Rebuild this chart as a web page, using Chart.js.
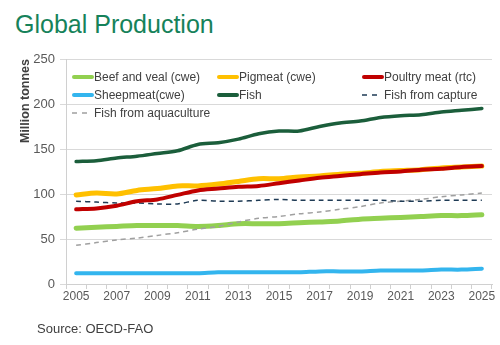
<!DOCTYPE html>
<html lang="en">
  <head>
    <meta charset="UTF-8" />
    <script src="https://cdn.jsdelivr.net/npm/chart.js"></script>
    <style>
      body {
        margin: 0;
        width: 500px;
        height: 345px;
        position: relative;
        background: #fff;
        font-family: "Liberation Sans", Arial, sans-serif;
        overflow: hidden;
      }
      #title {
        position: absolute;
        left: 15px;
        top: 12px;
        font-size: 25px;
        line-height: 1;
        color: #16825a;
      }
      #source {
        position: absolute;
        left: 37px;
        top: 322px;
        font-size: 13px;
        line-height: 1;
        color: #404040;
      }
      #chart {
        position: absolute;
        left: 0;
        top: 0;
      }
      #legend {
        position: absolute;
        left: 72px;
        top: 68px;
        display: grid;
        grid-template-columns: 145px 145px 130px;
        row-gap: 1px;
        font-size: 12px;
        color: #404040;
      }
      .item {
        display: flex;
        align-items: center;
        height: 17px;
        white-space: nowrap;
      }
    </style>
  </head>
  <body>
    <div id="title">Global Production</div>
    <canvas id="chart" width="500" height="345"></canvas>
    <div id="legend"></div>
    <div id="source">Source: OECD-FAO</div>

    <script>
      const years = [
        "2005", "2006", "2007", "2008", "2009", "2010", "2011", "2012", "2013", "2014", "2015",
        "2016", "2017", "2018", "2019", "2020", "2021", "2022", "2023", "2024", "2025",
      ];
      const beef = [62, 63, 64, 65, 65, 65, 64, 65, 67, 67, 67, 68, 69, 70, 72, 73, 74, 75, 76, 76, 77];
      const pigmeat = [99, 101, 100, 104, 106, 109, 109, 111, 114, 117, 117, 119, 120, 122, 123, 125, 126, 127, 129, 130, 131];
      const poultry = [83, 84, 87, 92, 94, 99, 104, 106, 108, 109, 112, 115, 118, 120, 122, 124, 125, 127, 128, 130, 131];
      const sheep = [12, 12, 12, 12, 12, 12, 12, 13, 13, 13, 13, 13, 14, 14, 14, 15, 15, 15, 16, 16, 17];
      const fish = [136, 137, 140, 142, 145, 148, 155, 157, 161, 167, 170, 170, 175, 179, 181, 185, 187, 188, 191, 193, 195];
      const capture = [92, 91, 90, 90, 89, 89, 93, 92, 92, 93, 94, 93, 93, 93, 93, 93, 92, 92, 93, 93, 93];
      const aquaculture = [43, 46, 49, 51, 54, 57, 61, 64, 69, 73, 75, 78, 80, 83, 86, 90, 92, 94, 97, 99, 101];
      const yTicks = [0, 50, 100, 150, 200, 250];

      function line(label, data, color, width, dash) {
        return {
          label: label,
          data: data,
          borderColor: color,
          backgroundColor: color,
          borderWidth: width,
          borderDash: dash || [],
          pointRadius: 0,
          tension: 0.3,
          borderCapStyle: dash ? "butt" : "round",
          fill: false,
        };
      }

      // legend order is row by row; draw order puts red and dark green on top
      const datasets = [
        line("Beef and veal (cwe)", beef, "#92d050", 5),
        line("Pigmeat (cwe)", pigmeat, "#ffc000", 5),
        line("Poultry meat (rtc)", poultry, "#c00000", 4),
        line("Sheepmeat(cwe)", sheep, "#33b5ee", 4),
        line("Fish", fish, "#1b5e3b", 3.5),
        line("Fish from capture", capture, "#1f3b55", 1.5, [5, 4]),
        line("Fish from aquaculture", aquaculture, "#a0a0a0", 1.5, [5, 4]),
      ];
      datasets.forEach((d, i) => (d.order = [5, 4, 1, 6, 0, 2, 3][i]));

      const ctx = document.getElementById("chart").getContext("2d");
      const chart = new Chart(ctx, {
        type: "line",
        data: { labels: years, datasets: datasets },
        options: {
          responsive: false,
          animation: false,
          layout: { padding: { top: 59, right: 8, left: 0, bottom: 0 } },
          plugins: { legend: { display: false }, tooltip: { enabled: false } },
          scales: {
            x: {
              offset: true,
              afterFit: (s) => (s.height = 61),
              grid: {
                offset: true,
                drawOnChartArea: false,
                tickLength: 5,
                color: "#d0d0d0",
              },
              border: { color: "#d0d0d0" },
              ticks: {
                autoSkip: false,
                maxRotation: 0,
                padding: 0,
                color: "#595959",
                font: { family: "Liberation Sans, Arial", size: 12 },
                callback: (v, i) => (i % 2 === 0 ? years[i] : ""),
              },
            },
            y: {
              min: 0,
              max: 250,
              afterFit: (s) => (s.width = 66),
              afterBuildTicks: (s) => (s.ticks = yTicks.map((v) => ({ value: v }))),
              grid: { color: "#d9d9d9", tickLength: 6 },
              border: { color: "#d0d0d0" },
              ticks: {
                padding: 5,
                color: "#595959",
                font: { family: "Liberation Sans, Arial", size: 13 },
              },
              title: {
                display: true,
                text: "Million tonnes",
                align: "end",
                color: "#404040",
                padding: { top: 18, bottom: 0 },
                font: { family: "Liberation Sans, Arial", size: 12.5, weight: "bold" },
              },
            },
          },
        },
      });

      // legend laid out in three columns inside the plot, like the original
      const legend = document.getElementById("legend");
      chart.data.datasets.forEach((d) => {
        const item = document.createElement("div");
        item.className = "item";
        const dashed = d.borderDash.length > 0;
        const stroke = dashed
          ? `<line x1="0" y1="4" x2="15" y2="4" stroke="${d.borderColor}" stroke-width="1.5" stroke-dasharray="5 5"/>`
          : `<line x1="2" y1="4" x2="20" y2="4" stroke="${d.borderColor}" stroke-width="4" stroke-linecap="round"/>`;
        item.innerHTML = `<svg width="22" height="8">${stroke}</svg><span>${d.label}</span>`;
        legend.appendChild(item);
      });
    </script>
  </body>
</html>
